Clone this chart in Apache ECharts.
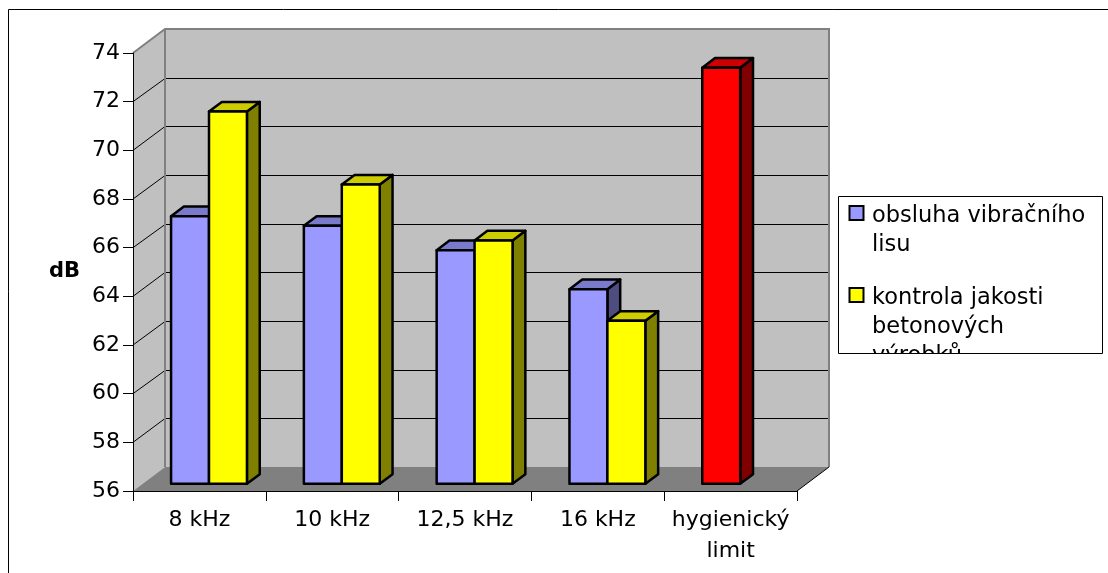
<!DOCTYPE html>
<html>
<head>
<meta charset="utf-8">
<script src="https://cdn.jsdelivr.net/npm/echarts@6/dist/echarts.min.js"></script>
<style>
  html, body { margin: 0; padding: 0; background: #fff; }
  #chart { width: 1108px; height: 573px; }
</style>
</head>
<body>
<div id="chart"></div>
<script>
// Noise levels (dB) per octave band
const categories = ['8 kHz', '10 kHz', '12,5 kHz', '16 kHz', 'hygienický\nlimit'];
const obsluhaLisu = [67.0, 66.6, 65.6, 64.0, null];
const kontrolaJakosti = [71.3, 68.3, 66.0, 62.7, null];
const hygienickyLimit = [null, null, null, null, 73.1];
const yTicks = [56, 58, 60, 62, 64, 66, 68, 70, 72, 74];
const seriesNames = ['obsluha vibračního lisu', 'kontrola jakosti betonových výrobků', 'hygienický limit'];
const legendLabels = ['obsluha vibračního\nlisu', 'kontrola jakosti\nbetonových\nvýrobků'];

// Oblique 3D look: depth vector of the plot box and where the bars sit inside it
const DEPTH_X = 32, DEPTH_Y = -24;
const BAR_FRONT = 0.3, BAR_BACK = 0.7;
const GAP = 1.5; // gap between groups, in bar widths
const FONT = '"DejaVu Sans", sans-serif';

function shade(hex, k) {
  const n = parseInt(hex.slice(1), 16);
  const r = Math.round(((n >> 16) & 255) * k);
  const g = Math.round(((n >> 8) & 255) * k);
  const b = Math.round((n & 255) * k);
  return 'rgb(' + r + ',' + g + ',' + b + ')';
}

function toData(arr) {
  const out = [];
  arr.forEach(function (v, i) { if (v != null) out.push([i, v]); });
  return out;
}

function makeBarRenderer(slot) {
  return function (params, api) {
    const idx = api.value(0);
    const v = api.value(1);
    const base = api.coord([idx, yTicks[0]]);
    const top = api.coord([idx, v]);
    const band = api.size([1, 0])[0];
    const bw = band / (2 + GAP);
    const xl = base[0] - band / 2 + bw * GAP / 2 + slot * bw;
    const xr = xl + bw;
    const fx = DEPTH_X * BAR_FRONT, fy = DEPTH_Y * BAR_FRONT;
    const bx = DEPTH_X * BAR_BACK, by = DEPTH_Y * BAR_BACK;
    const yt = top[1], yb = base[1];
    const color = api.visual('color');
    const edge = { stroke: '#000', lineWidth: 2.5, lineJoin: 'round' };
    return {
      type: 'group',
      children: [
        {
          type: 'polygon',
          shape: { points: [[xr + fx, yt + fy], [xr + bx, yt + by], [xr + bx, yb + by], [xr + fx, yb + fy]] },
          style: Object.assign({ fill: shade(color, 0.5) }, edge)
        },
        {
          type: 'polygon',
          shape: { points: [[xl + fx, yt + fy], [xr + fx, yt + fy], [xr + bx, yt + by], [xl + bx, yt + by]] },
          style: Object.assign({ fill: shade(color, 0.8) }, edge)
        },
        {
          type: 'polygon',
          shape: { points: [[xl + fx, yt + fy], [xr + fx, yt + fy], [xr + fx, yb + fy], [xl + fx, yb + fy]] },
          style: Object.assign({ fill: color }, edge)
        }
      ]
    };
  };
}

// Walls, floor and gridlines of the plot box
function renderFrame(params, api) {
  const cs = params.coordSys;
  const x0 = cs.x, x1 = cs.x + cs.width, yT = cs.y, yB = cs.y + cs.height;
  const dx = DEPTH_X, dy = DEPTH_Y;
  const children = [
    { type: 'polygon', shape: { points: [[x0, yT], [x0 + dx, yT + dy], [x0 + dx, yB + dy], [x0, yB]] },
      style: { fill: '#c0c0c0' } },
    { type: 'rect', shape: { x: x0 + dx, y: yT + dy, width: x1 - x0, height: yB - yT },
      style: { fill: '#c0c0c0' } },
    { type: 'polygon', shape: { points: [[x0, yB], [x0 + dx, yB + dy], [x1 + dx, yB + dy], [x1, yB]] },
      style: { fill: '#808080' } }
  ];
  yTicks.slice(1, -1).forEach(function (t) {
    const y = api.coord([0, t])[1];
    const yb = Math.round(y + dy) + 0.5;
    children.push({
      type: 'polyline',
      shape: { points: [[x0, y], [x0 + dx, yb], [x1 + dx, yb]] },
      style: { fill: null, stroke: '#000', lineWidth: 1 }
    });
  });
  children.push({
    type: 'polyline',
    shape: { points: [[x0, yT], [x0 + dx, yT + dy], [x1 + dx, yT + dy], [x1 + dx, yB + dy]] },
    style: { fill: null, stroke: '#808080', lineWidth: 2 }
  });
  children.push({
    type: 'line',
    shape: { x1: x0 + dx, y1: yT + dy, x2: x0 + dx, y2: yB + dy },
    style: { stroke: '#808080', lineWidth: 2 }
  });
  children.push({
    type: 'line',
    shape: { x1: x1, y1: yB, x2: x1 + dx, y2: yB + dy },
    style: { stroke: '#000', lineWidth: 1 }
  });
  return { type: 'group', children: children };
}

const barColors = ['#9999ff', '#ffff00', '#ff0000'];

// Legend box (text wraps inside a fixed box and the last line is cut by its edge)
const LEG = { x: 838.5, y: 196.5, w: 264, h: 157 };
const legendGraphics = [
  { type: 'rect', z: 10, silent: true, shape: { x: LEG.x, y: LEG.y, width: LEG.w, height: LEG.h },
    style: { fill: '#fff' } }
];
const legendTops = [201.5, 283.5];
legendLabels.forEach(function (label, i) {
  legendGraphics.push({
    type: 'rect', z: 11, silent: true,
    shape: { x: 849.5, y: legendTops[i] + 4.5, width: 14, height: 14 },
    style: { fill: barColors[i], stroke: '#000', lineWidth: 2 }
  });
  legendGraphics.push({
    type: 'text', z: 11, silent: true, x: 872, y: legendTops[i],
    style: { text: label, fill: '#000', fontFamily: FONT, fontSize: 22.5, lineHeight: 29, verticalAlign: 'top' }
  });
});
legendGraphics.push({
  type: 'rect', z: 12, silent: true,
  shape: { x: LEG.x - 2, y: LEG.y + LEG.h + 0.5, width: LEG.w + 4, height: 60 },
  style: { fill: '#fff' }
});
legendGraphics.push({
  type: 'rect', z: 13, silent: true,
  shape: { x: LEG.x, y: LEG.y, width: LEG.w, height: LEG.h },
  style: { fill: null, stroke: '#000', lineWidth: 1 }
});
legendGraphics.push({
  type: 'rect', z: 0, silent: true,
  shape: { x: 8.5, y: 9.5, width: 1200, height: 700 },
  style: { fill: null, stroke: '#000', lineWidth: 1 }
});

const chart = echarts.init(document.getElementById('chart'), null, { renderer: 'canvas' });
chart.setOption({
  backgroundColor: '#fff',
  animation: false,
  textStyle: { fontFamily: FONT },
  grid: { left: 133, right: 311, top: 53, bottom: 82 },
  xAxis: {
    type: 'category',
    data: categories,
    z: 5,
    axisLine: { show: true, lineStyle: { color: '#000', width: 1 } },
    axisTick: { show: true, length: 10, interval: 0, lineStyle: { color: '#000' } },
    axisLabel: { interval: 0, color: '#000', fontSize: 22, fontFamily: FONT, margin: 14, lineHeight: 31 },
    splitLine: { show: false }
  },
  yAxis: {
    type: 'value',
    min: yTicks[0],
    max: yTicks[yTicks.length - 1],
    interval: yTicks[1] - yTicks[0],
    z: 5,
    name: 'dB',
    nameLocation: 'middle',
    nameRotate: 0,
    nameGap: 53,
    nameTextStyle: { color: '#000', fontSize: 21, fontWeight: 'bold', fontFamily: FONT },
    axisLine: { show: true, lineStyle: { color: '#000', width: 1 } },
    axisTick: { show: true, length: 10, lineStyle: { color: '#000' } },
    axisLabel: { color: '#000', fontSize: 22, fontFamily: FONT, margin: 13 },
    splitLine: { show: false }
  },
  graphic: legendGraphics,
  series: [
    { type: 'custom', name: 'frame', z: 1, silent: true, data: [[0, yTicks[0]]], renderItem: renderFrame },
    { type: 'custom', name: seriesNames[0], z: 2, itemStyle: { color: barColors[0] },
      data: toData(obsluhaLisu), renderItem: makeBarRenderer(0) },
    { type: 'custom', name: seriesNames[1], z: 2, itemStyle: { color: barColors[1] },
      data: toData(kontrolaJakosti), renderItem: makeBarRenderer(1) },
    { type: 'custom', name: seriesNames[2], z: 2, itemStyle: { color: barColors[2] },
      data: toData(hygienickyLimit), renderItem: makeBarRenderer(0) }
  ]
});
</script>
</body>
</html>
